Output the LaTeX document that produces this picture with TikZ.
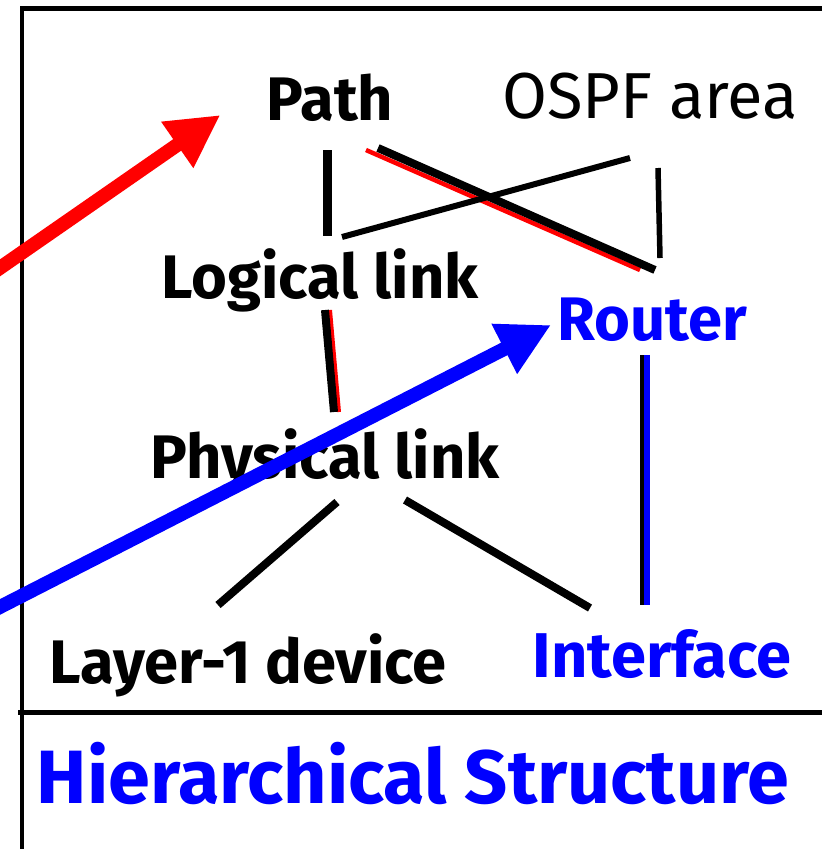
\documentclass[tikz,border=0pt]{standalone}
\usepackage{fontspec}
\setmainfont{Fira Sans}
\usepackage{tikz}
\usetikzlibrary{arrows.meta,positioning}

\begin{document}
\begin{tikzpicture}
[x=0.02cm, y=-0.02cm,
% STYLES
every node/.style={inner sep=0pt, anchor=base},
% The layer style is used for the bold names of the hierarchy
layer/.style={font=\fontsize{35}{40}\selectfont\bfseries, text=black},
% The device style is used for the blue names
device/.style={layer, text=blue},
% The area style is used for the OSPF area
area/.style={font=\fontsize{37}{40}\selectfont},
% The link style is used for the lines between the names
link/.style={line width=0.16cm, black},
% The frame style is used for the outer lines
frame/.style={line width=0.1cm, black},
% The pointer style is used for the big arrows
pointer/.style={line width=0.28cm, -{Triangle[length=1.05cm,width=1.05cm]}}]

\useasboundingbox (0,0) rectangle (822,849);

% Draw frame
\draw[frame] (22,849) -- (22,8) -- (822,8);
\draw[frame] (18,712) -- (822,712);

% Draw names
\node [layer] (path) at (330,120) {Path};
\node [area] (ospf) at (650,118) {OSPF area};
\node [layer] (logical) at (320,298) {Logical link};
\node [device] (router) at (652,340) {Router};
\node [layer] (physical) at (325,478) {Physical link};
\node [layer] (layer1) at (248,683) {Layer-1 device};
\node [device, font=\fontsize{36}{40}\selectfont\bfseries] (interface) at (662,677) {Interface};
\node [font=\fontsize{43}{50}\selectfont\bfseries, text=blue] (title) at (413,803) {Hierarchical Structure};

% free ends of the big arrows
\coordinate (redstart) at (-6,272);
\coordinate (bluestart) at (-6,610);

%%%%%%%%%%%%%%%
% Draw the links between names
\draw[link, line width=0.18cm] ([shift={(-3,30)}]path.base) -- ([shift={(7,-62)}]logical.base);
\draw[link, red, line width=0.09cm] ([shift={(36,30)}]path.base) -- ([shift={(-12,-70)}]router.base);
\draw[link] ([shift={(48,28)}]path.base) -- ([shift={(3,-70)}]router.base);
\draw[link, line width=0.12cm] ([shift={(-20,40)}]ospf.base) -- ([shift={(22,-61)}]logical.base);
\draw[link, line width=0.11cm] ([shift={(8,50)}]ospf.base) -- ([shift={(8,-82)}]router.base);
\draw[link, red, line width=0.08cm] ([shift={(10,12)}]logical.base) -- ([shift={(14,-66)}]physical.base);
\draw[link] ([shift={(5,12)}]logical.base) -- ([shift={(9,-66)}]physical.base);
\draw[link, blue, line width=0.11cm] ([shift={(-5,15)}]router.base) -- ([shift={(-15,-72)}]interface.base);
\draw[link, line width=0.08cm] ([shift={(-10,15)}]router.base) -- ([shift={(-20,-72)}]interface.base);
\draw[link] ([shift={(12,24)}]physical.base) -- ([shift={(-30,-78)}]layer1.base);
\draw[link] ([shift={(80,22)}]physical.base) -- ([shift={(-72,-69)}]interface.base);

% Draw the big arrows
\draw[pointer, red] (redstart) -- ([shift={(-46,-5)}]path.base west);
\draw[pointer, blue] (bluestart) -- ([shift={(-6,-15)}]router.base west);

\end{tikzpicture}
\end{document}
